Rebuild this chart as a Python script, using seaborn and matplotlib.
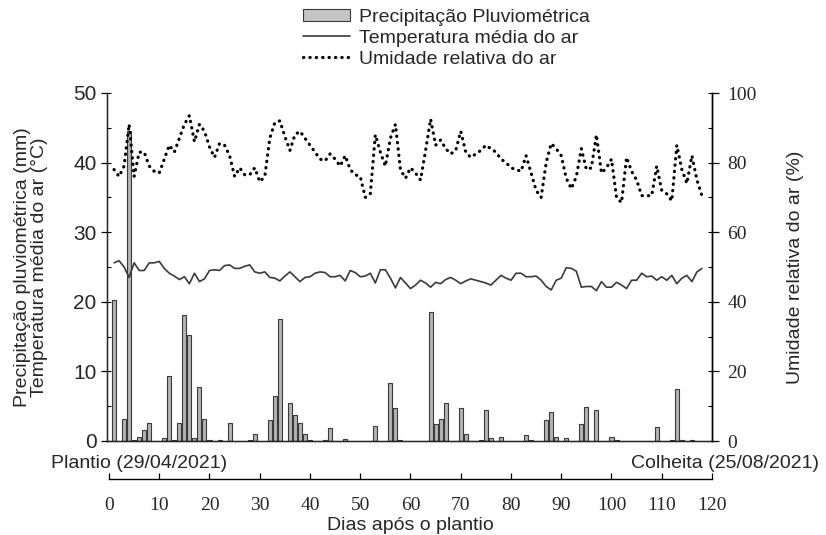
import numpy as np
import pandas as pd
import matplotlib
matplotlib.use("Agg")
import matplotlib.pyplot as plt
import seaborn as sns
from matplotlib.patches import Patch
from matplotlib.lines import Line2D
from matplotlib.ticker import MultipleLocator

sns.set_style("white")
plt.rcParams['font.family'] = ['Liberation Sans', 'DejaVu Sans']

# ---------------- data ----------------
days = list(range(1, 119))

temperature = [25.6, 25.9, 25.0, 23.5, 25.6, 24.5, 24.5, 25.6, 25.6, 25.8,
               24.8, 24.1, 23.7, 23.2, 23.6, 22.6, 24.1, 22.9, 23.3, 24.5,
               24.6, 24.5, 25.2, 25.3, 24.8, 24.8, 25.1, 25.3, 24.3, 24.1,
               24.3, 23.5, 23.4, 23.0, 23.7, 24.3, 23.6, 22.9, 23.5, 23.6,
               24.1, 24.3, 24.2, 23.6, 23.6, 23.8, 23.0, 24.5, 24.2, 23.6,
               23.7, 24.1, 22.7, 24.6, 24.6, 23.4, 22.0, 23.5, 22.7, 21.9,
               22.4, 23.1, 22.7, 22.1, 22.8, 22.6, 23.2, 23.5, 23.1, 22.6,
               23.0, 23.3, 23.1, 22.9, 22.7, 22.4, 23.1, 23.8, 23.4, 23.1,
               24.1, 24.1, 23.6, 23.6, 23.7, 23.1, 22.2, 21.7, 23.1, 23.4,
               24.9, 24.8, 24.4, 22.1, 22.2, 22.2, 21.6, 22.9, 22.1, 22.1,
               22.8, 22.4, 21.9, 23.1, 23.1, 24.1, 23.6, 23.7, 23.1, 23.6,
               23.1, 23.8, 22.6, 23.4, 23.8, 22.9, 24.3, 24.8]

humidity = [78, 76, 79, 91, 76, 83, 83, 79, 77.5, 77,
            81, 85, 83, 87, 91, 93.5, 86, 91, 89, 84.5,
            81.5, 85.5, 85, 82, 76, 78.5, 76.5, 76.5, 78.5, 74.5,
            76, 87, 91.5, 92, 87.5, 83.5, 88, 89, 87, 85,
            83, 81, 80.5, 82.5, 81, 79, 82, 78, 76.5, 76,
            70, 71, 88, 83, 79, 87, 91, 78, 75.5, 78.5,
            77, 75, 83.5, 92.5, 85, 86.5, 84, 82.5, 83.5, 89,
            83, 81.5, 82.5, 83.5, 85, 84, 83, 81, 80, 78.5,
            78, 77.5, 82, 77, 72, 70, 80, 85.5, 84, 82,
            75.5, 72.5, 76, 84, 78, 78.5, 88, 77, 78.5, 81,
            70, 68.5, 81.5, 77.5, 75, 70.5, 70.5, 70.5, 79, 72,
            71, 69, 85, 78, 74, 82, 75, 70.5]

rain_days = [1, 3, 4, 5, 6, 7, 8, 11, 12, 13, 14, 15, 16, 17, 18, 19, 20, 22,
             24, 28, 29, 32, 33, 34, 36, 37, 38, 39, 40, 43, 44, 47, 53, 56,
             57, 58, 64, 65, 66, 67, 70, 71, 74, 75, 76, 78, 83, 84, 87, 88,
             89, 91, 94, 95, 97, 100, 101, 109, 112, 113, 114, 116]
rain_mm = [20.2, 3.2, 44.6, 0.2, 0.6, 1.6, 2.6, 0.4, 9.4, 0.1, 2.6, 18.1, 15.2,
           0.5, 7.8, 3.2, 0.1, 0.1, 2.6, 0.1, 1.0, 3.0, 6.4, 17.5, 5.4, 3.8,
           2.6, 1.0, 0.2, 0.2, 1.8, 0.3, 2.2, 8.4, 4.8, 0.2, 18.6, 2.4, 3.2,
           5.4, 4.8, 1.0, 0.2, 4.4, 0.4, 0.6, 0.8, 0.2, 3.0, 4.2, 0.6, 0.4,
           2.4, 4.9, 4.4, 0.6, 0.2, 2.0, 0.2, 7.4, 0.2, 0.2]

day_ticks = list(range(0, 121, 10))
left_ticks = [0, 10, 20, 30, 40, 50]
right_ticks = [0, 20, 40, 60, 80, 100]

labels = ["Precipitação Pluviométrica", "Temperatura média do ar",
          "Umidade relativa do ar"]

df_clim = pd.DataFrame({"dia": days, "temp": temperature, "ur": humidity})
df_rain = pd.DataFrame({"dia": rain_days, "chuva": rain_mm})

# ---------------- figure ----------------
W, H = 826, 535
fig = plt.figure(figsize=(W / 100, H / 100), dpi=100)

ax = fig.add_axes([107 / W, 1 - 441 / H, (712 - 107) / W, (441 - 93) / H])
bar_face = "#b4b4b4"
bar_edge = "#3a3a3a"
sns.barplot(data=df_rain, x="dia", y="chuva", native_scale=True, ax=ax,
            color=bar_face, saturation=1, edgecolor=bar_edge, linewidth=0.8,
            width=0.8, zorder=2)
sns.lineplot(data=df_clim, x="dia", y="temp", ax=ax, color="#3a3a3a",
             linewidth=1.2, zorder=3)

ax.set_xlim(-0.4, 120)
ax.set_ylim(0, 50)
ax.set_yticks(left_ticks)
ax.yaxis.set_minor_locator(MultipleLocator(5))
ax.yaxis.remove_overlapping_locs = False
ax.tick_params(axis="y", which="major", direction="out", length=4.5,
               width=0.9, labelsize=15, pad=3, color="black", left=True)
ax.tick_params(axis="y", which="minor", direction="in", length=3.2,
               width=0.8, color="black", left=True)
ax.tick_params(axis="x", bottom=False, labelbottom=False)
ax.set_xlabel("")
ax.set_ylabel("Precipitação pluviométrica (mm)\nTemperatura média do ar (°C)",
              fontsize=14, linespacing=1.0, labelpad=18)
for s in ["left", "bottom", "right"]:
    ax.spines[s].set_color("black")
    ax.spines[s].set_linewidth(1.0)
ax.spines["top"].set_visible(False)

ax2 = ax.twinx()
sns.lineplot(data=df_clim, x="dia", y="ur", ax=ax2, color="black",
             linewidth=2.3, linestyle=(0, (0.1, 1.9)),
             dash_capstyle="round", zorder=4)
ax2.set_ylim(0, 100)
ax2.set_xlim(-0.4, 120)
ax2.set_yticks(right_ticks)
ax2.set_yticklabels([str(v) for v in right_ticks], family="Liberation Serif",
                    fontsize=14)
ax2.yaxis.set_minor_locator(MultipleLocator(10))
ax2.yaxis.remove_overlapping_locs = False
ax2.tick_params(axis="y", which="major", direction="out", length=5,
                width=0.9, pad=6, color="black", right=True)
ax2.tick_params(axis="y", which="minor", direction="in", length=3.2,
                width=0.8, color="black", right=True)
ax2.set_ylabel("Umidade relativa do ar (%)", fontsize=14, labelpad=22)
ax2.set_xlabel("")
ax2.tick_params(axis="x", bottom=False, labelbottom=False)
ax2.spines["top"].set_visible(False)
ax2.spines["right"].set_color("black")
ax2.spines["right"].set_linewidth(1.0)

# ---------------- days axis ----------------
ax3 = fig.add_axes([109 / W, 1 - 479 / H, (712 - 109) / W, 15 / H])
ax3.set_xlim(0, 120)
ax3.set_xticks(day_ticks)
ax3.set_xticklabels([str(v) for v in day_ticks], family="Liberation Serif",
                    fontsize=14)
ax3.tick_params(axis="x", direction="in", length=4.5, width=0.9, pad=13,
                color="black", bottom=True)
ax3.set_yticks([])
for s in ["left", "right", "top"]:
    ax3.spines[s].set_visible(False)
ax3.spines["bottom"].set_color("black")
ax3.spines["bottom"].set_linewidth(1.0)
ax3.patch.set_alpha(0)
ax3.set_xlabel("Dias após o plantio", fontsize=14, labelpad=2)

fig.text(51 / W, 1 - 463 / H, "Plantio (29/04/2021)", fontsize=14,
         ha="left", va="center")
fig.text(819 / W, 1 - 463 / H, "Colheita (25/08/2021)", fontsize=14,
         ha="right", va="center")

# ---------------- legend ----------------
handles = [
    Patch(facecolor="#c4c4c4", edgecolor=bar_edge, linewidth=0.8),
    Line2D([], [], color="#3a3a3a", linewidth=1.2),
    Line2D([], [], color="black", linewidth=2.3, linestyle=(0, (0.1, 1.9)),
           dash_capstyle="round"),
]
fig.legend(handles, labels, loc="upper left",
           bbox_to_anchor=(303 / W, 1 - 9 / H), frameon=False, fontsize=14,
           borderpad=0, borderaxespad=0, handlelength=2.4, handleheight=0.6,
           handletextpad=0.5, labelspacing=0.2)

fig.savefig("out.png", dpi=100)
